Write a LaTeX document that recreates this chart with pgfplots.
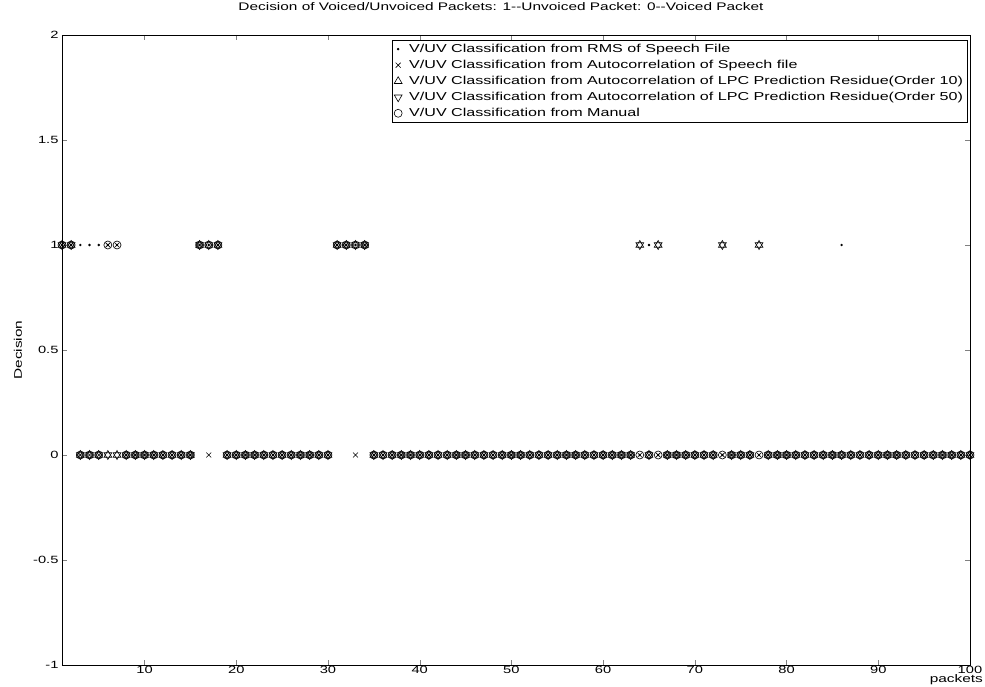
\documentclass[border=0pt]{standalone}
\usepackage{pgfplots}
\usepackage{pgfplotstable}
\pgfplotsset{compat=1.18}
\usepackage{fontspec}
\setmainfont[FakeStretch=1.4]{Liberation Sans}

\pgfplotstableread{
x r a t v m
1 1 1 1 1 1
2 1 1 1 1 1
3 1 0 0 0 0
4 1 0 0 0 0
5 1 0 0 0 0
6 1 1 0 0 1
7 1 1 0 0 1
8 0 0 0 0 0
9 0 0 0 0 0
10 0 0 0 0 0
11 0 0 0 0 0
12 0 0 0 0 0
13 0 0 0 0 0
14 0 0 0 0 0
15 0 0 0 0 0
16 1 1 1 1 1
17 1 0 1 1 1
18 1 1 1 1 1
19 0 0 0 0 0
20 0 0 0 0 0
21 0 0 0 0 0
22 0 0 0 0 0
23 0 0 0 0 0
24 0 0 0 0 0
25 0 0 0 0 0
26 0 0 0 0 0
27 0 0 0 0 0
28 0 0 0 0 0
29 0 0 0 0 0
30 0 0 0 0 0
31 1 1 1 1 1
32 1 1 1 1 1
33 1 0 1 1 1
34 1 1 1 1 1
35 0 0 0 0 0
36 0 0 0 0 0
37 0 0 0 0 0
38 0 0 0 0 0
39 0 0 0 0 0
40 0 0 0 0 0
41 0 0 0 0 0
42 0 0 0 0 0
43 0 0 0 0 0
44 0 0 0 0 0
45 0 0 0 0 0
46 0 0 0 0 0
47 0 0 0 0 0
48 0 0 0 0 0
49 0 0 0 0 0
50 0 0 0 0 0
51 0 0 0 0 0
52 0 0 0 0 0
53 0 0 0 0 0
54 0 0 0 0 0
55 0 0 0 0 0
56 0 0 0 0 0
57 0 0 0 0 0
58 0 0 0 0 0
59 0 0 0 0 0
60 0 0 0 0 0
61 0 0 0 0 0
62 0 0 0 0 0
63 0 0 0 0 0
64 0 0 1 1 0
65 1 0 0 0 0
66 0 0 1 1 0
67 0 0 0 0 0
68 0 0 0 0 0
69 0 0 0 0 0
70 0 0 0 0 0
71 0 0 0 0 0
72 0 0 0 0 0
73 0 0 1 1 0
74 0 0 0 0 0
75 0 0 0 0 0
76 0 0 0 0 0
77 0 0 1 1 0
78 0 0 0 0 0
79 0 0 0 0 0
80 0 0 0 0 0
81 0 0 0 0 0
82 0 0 0 0 0
83 0 0 0 0 0
84 0 0 0 0 0
85 0 0 0 0 0
86 1 0 0 0 0
87 0 0 0 0 0
88 0 0 0 0 0
89 0 0 0 0 0
90 0 0 0 0 0
91 0 0 0 0 0
92 0 0 0 0 0
93 0 0 0 0 0
94 0 0 0 0 0
95 0 0 0 0 0
96 0 0 0 0 0
97 0 0 0 0 0
98 0 0 0 0 0
99 0 0 0 0 0
100 0 0 0 0 0
}\datatable

\begin{document}
\begin{tikzpicture}
\begin{axis}[
  scale only axis,
  width=908pt, height=630pt,
  xmin=1, xmax=100, ymin=-1, ymax=2,
  xtick={10,20,...,100},
  ytick={-1,-0.5,0,0.5,1,1.5,2},
  yticklabels={-1,-0.5,0,0.5,1,1.5,2},
  /pgf/number format/assume math mode=true,
  tick align=inside,
  major tick length=5pt,
  tick label style={font=\fontsize{10.5}{12}\selectfont},
  xticklabel style={yshift=2pt},
  label style={font=\fontsize{11}{12}\selectfont},
  title={Decision of Voiced/Unvoiced Packets: 1{-}{-}Unvoiced Packet: 0{-}{-}Voiced Packet},
  title style={font=\fontsize{11}{12}\selectfont, at={(rel axis cs:0.5,1)}, anchor=center, yshift=22pt, xshift=-15pt},
  xlabel={packets},
  xlabel style={at={(rel axis cs:0.985,0)}, anchor=center, yshift=-15pt, inner sep=1pt},
  ylabel={Decision},
  ylabel style={at={(rel axis cs:-0.0485,0.5)}, anchor=center},
  legend style={at={(rel axis cs:0.997,0.992)}, anchor=north east, draw=black, fill=white,
    font=\fontsize{11.5}{12}\selectfont, row sep=2.2pt, inner sep=2pt,
    cells={anchor=west},
    /tikz/every odd column/.append style={column sep=5pt}},
  legend cell align=left,
  every axis plot/.append style={only marks, black, line width=0.6pt},
]
\addplot[mark=*, mark size=0.9pt] table[x=x, y=r] {\datatable};
\addlegendentry{V/UV Classification from RMS of Speech File}
\addplot[mark=x, mark size=3.5pt] table[x=x, y=a] {\datatable};
\addlegendentry{V/UV Classification from Autocorrelation of Speech file}
\addplot[mark=triangle, mark size=4.5pt] table[x=x, y=t] {\datatable};
\addlegendentry{V/UV Classification from Autocorrelation of LPC Prediction Residue(Order 10)}
\addplot[mark=triangle, mark size=4.5pt, mark options={rotate=180}] table[x=x, y=v] {\datatable};
\addlegendentry{V/UV Classification from Autocorrelation of LPC Prediction Residue(Order 50)}
\addplot[mark=o, mark size=4pt] table[x=x, y=m] {\datatable};
\addlegendentry{V/UV Classification from Manual}
\coordinate (boxsw) at (rel axis cs:0,0);
\end{axis}
\pgfresetboundingbox
\path ([shift={(-62pt,-21pt)}]boxsw) rectangle ([shift={(923pt,665pt)}]boxsw);
\end{tikzpicture}
\end{document}
